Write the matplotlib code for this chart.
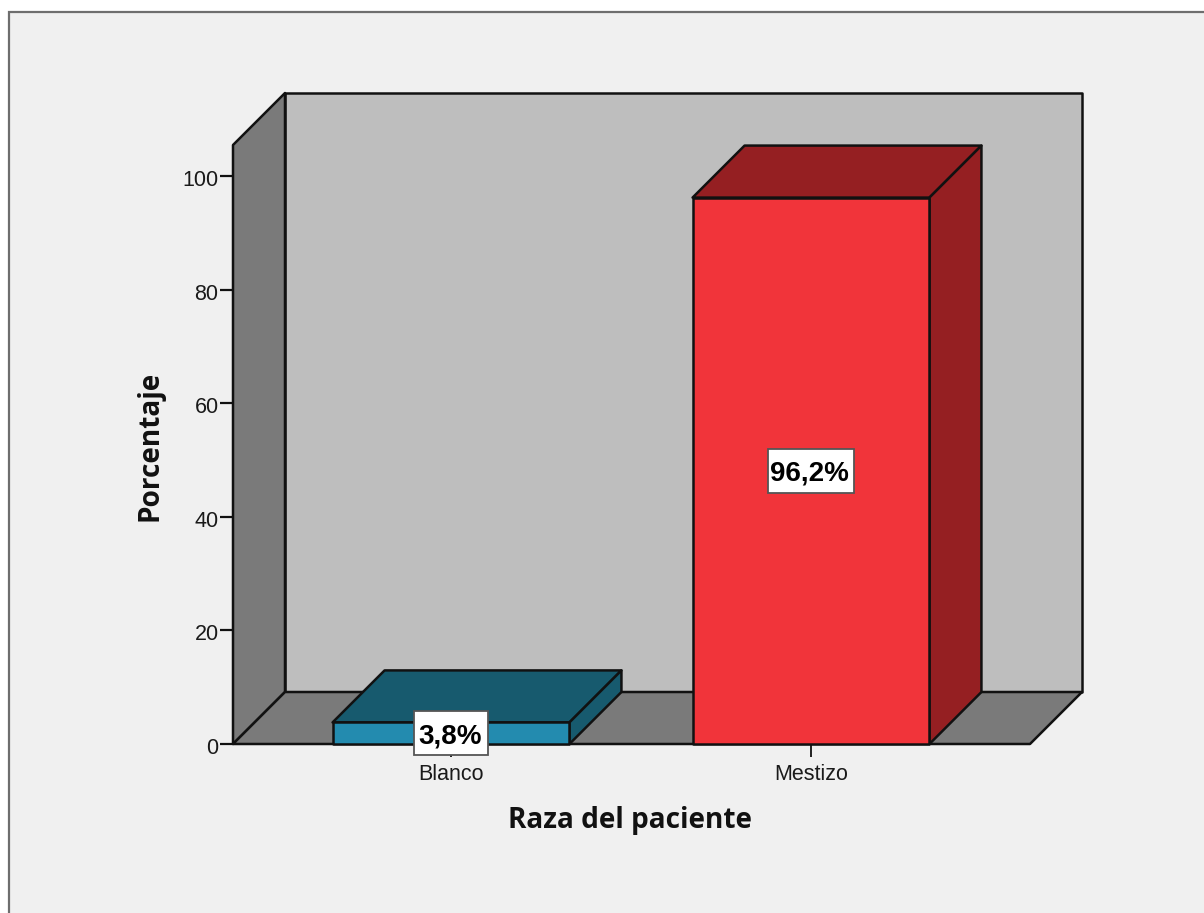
# libraries
import matplotlib
matplotlib.use("Agg")
import matplotlib.pyplot as plt
from matplotlib.patches import Polygon, Rectangle
from matplotlib.transforms import ScaledTranslation

plt.rcParams['font.family'] = ['Liberation Sans', 'DejaVu Sans']

categories = ["Blanco", "Mestizo"]
porcentajes = [3.8, 96.2]
etiquetas = ["3,8%", "96,2%"]
yticks = [0, 20, 40, 60, 80, 100]

# front, top and side colours of each bar
bar_front = ["#238BAF", "#F1343A"]
bar_top = ["#175A6E", "#951F22"]
bar_side = ["#175A6E", "#951F22"]

W, H = 1204, 913
BG = "#F0F0F0"
WALL = "#BEBEBE"
SHADE = "#7A7A7A"
EDGE = "#111111"

fig = plt.figure(figsize=(W / 100, H / 100), dpi=100, facecolor="white")

# chart frame, runs off the right and bottom edges of the image
fig.patches.append(Rectangle((9 / W, -0.05), 1.05, 1.05 - 12 / H,
                             transform=fig.transFigure, facecolor=BG,
                             edgecolor="#6E6E6E", linewidth=1.6, zorder=-1))

# axes box is the front plane of the 3D chart
left, right, bottom, top = 233, 1030, 744, 145
ax = fig.add_axes([left / W, 1 - bottom / H, (right - left) / W, (bottom - top) / H])
ax.patch.set_visible(False)

px_x = 360.0   # pixels per category
px_y = 5.68    # pixels per percent
ax.set_xlim((left - 451) / px_x, (right - 451) / px_x)
ax.set_ylim(0, (bottom - top) / px_y)

# depth of the 3D box in data units
dx = 52 / px_x
dy = 52 / px_y
x0, x1 = ax.get_xlim()
y0, y1 = ax.get_ylim()


def poly(pts, color, z):
    ax.add_patch(Polygon(pts, closed=True, facecolor=color, edgecolor=EDGE,
                         linewidth=1.8, joinstyle="round", clip_on=False, zorder=z))


# back wall, left wall, floor
poly([(x0 + dx, y0 + dy), (x1 + dx, y0 + dy), (x1 + dx, y1 + dy), (x0 + dx, y1 + dy)], WALL, 1)
poly([(x0, y0), (x0 + dx, y0 + dy), (x0 + dx, y1 + dy), (x0, y1)], SHADE, 1)
poly([(x0, y0), (x1, y0), (x1 + dx, y0 + dy), (x0 + dx, y0 + dy)], SHADE, 1)

half = 0.329
for i, val in enumerate(porcentajes):
    a, b = i - half, i + half
    poly([(a, val), (b, val), (b + dx, val + dy), (a + dx, val + dy)], bar_top[i], 3)
    poly([(b, 0), (b + dx, dy), (b + dx, val + dy), (b, val)], bar_side[i], 3)
    poly([(a, 0), (b, 0), (b, val), (a, val)], bar_front[i], 4)

# value labels in white boxes, centred on the front face
box_w = [74 / px_x, 86 / px_x]
box_h = 44 / px_y
for i, val in enumerate(porcentajes):
    yc = max(val / 2, 1.6)
    ax.add_patch(Rectangle((i - box_w[i] / 2, yc - box_h / 2), box_w[i], box_h,
                           facecolor="white", edgecolor="#555555", linewidth=1.3,
                           clip_on=False, zorder=6))
    ax.text(i - 0.003, yc, etiquetas[i], ha="center", va="center_baseline", fontsize=20,
            fontweight="bold", color="black", zorder=7)

for side in ax.spines:
    ax.spines[side].set_visible(False)

ax.set_xticks(range(len(categories)))
ax.set_xticklabels(categories)
ax.set_yticks(yticks)
ax.tick_params(axis="y", length=9.4, width=1.6, color=EDGE, labelsize=15.5, pad=1,
               labelcolor="#1A1A1A")
ax.tick_params(axis="x", length=9.4, width=1.3, color=EDGE, labelsize=15.5, pad=5,
               labelcolor="#1A1A1A")

# y tick labels sit slightly below their ticks
shift = ScaledTranslation(0, -2 / 100, fig.dpi_scale_trans)
for lab in ax.get_yticklabels():
    lab.set_transform(lab.get_transform() + shift)

label_font = ['Open Sans', 'DejaVu Sans']
ax.set_xlabel("Raza del paciente", fontsize=20.2, fontweight="bold", labelpad=15,
              color="#111111", family=label_font)
ax.xaxis.label.set_position(((630 - left) / (right - left), 0))
ax.set_ylabel("Porcentaje", fontsize=20.2, fontweight="bold", labelpad=13,
              color="#111111", family=label_font)
ax.yaxis.label.set_position((0, (bottom - 446) / (bottom - top)))

plt.savefig("out.png", dpi=100, facecolor="white")
